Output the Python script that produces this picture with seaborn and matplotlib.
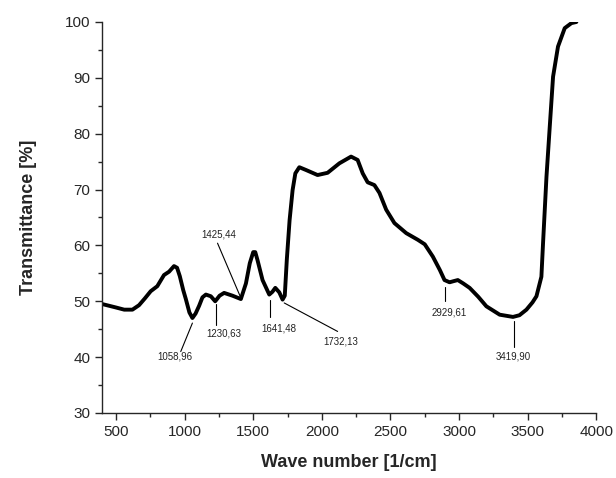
import matplotlib
matplotlib.use("Agg")
import matplotlib.pyplot as plt
import seaborn as sns
import pandas as pd
from matplotlib.ticker import MultipleLocator

wavenumber = [400, 498, 560, 620, 668, 710, 753, 801, 850, 887, 923, 945, 965, 990, 1009, 1035,
              1057, 1080, 1106, 1130, 1155, 1191, 1223, 1255, 1288, 1349, 1410, 1447, 1475,
              1500, 1515, 1531, 1568, 1617, 1640, 1661, 1690, 1714, 1730, 1745, 1765, 1787,
              1807, 1836, 1885, 1969, 2042, 2128, 2213, 2261, 2298, 2334, 2383, 2420, 2469,
              2529, 2615, 2700, 2750, 2809, 2860, 2894, 2931, 2960, 2991, 3030, 3077, 3140,
              3199, 3296, 3393, 3440, 3491, 3535, 3564, 3600, 3612, 3637, 3661, 3685, 3721,
              3770, 3819, 3855]
transmittance = [49.5, 48.9, 48.5, 48.5, 49.3, 50.5, 51.8, 52.7, 54.7, 55.3, 56.3, 56.0, 54.5,
                 52.0, 50.4, 48.0, 47.0, 47.8, 49.2, 50.7, 51.2, 50.9, 50.0, 51.0, 51.5, 51.0,
                 50.4, 53.2, 56.8, 58.8, 58.8, 57.4, 53.8, 51.2, 51.7, 52.4, 51.6, 50.3, 51.0,
                 57.5, 64.5, 69.9, 72.9, 74.0, 73.5, 72.6, 73.0, 74.7, 75.9, 75.3, 72.9, 71.3,
                 70.8, 69.4, 66.4, 64.0, 62.2, 61.0, 60.2, 58.0, 55.6, 53.8, 53.4, 53.6, 53.8,
                 53.2, 52.4, 50.8, 49.1, 47.6, 47.2, 47.5, 48.5, 49.8, 50.9, 54.4, 60.4, 72.3,
                 81.3, 90.2, 95.6, 98.9, 99.8, 100.0]

peak_labels = ["1058,96", "1230,63", "1425,44", "1641,48", "1732,13", "2929,61", "3419,90"]
# leader line start (x, y), end (x, y), text position (x, y)
line_start = [(1057, 46.1), (1228, 49.6), (1410, 50.6), (1619, 50.3), (1726, 49.7), (2899, 52.6), (3400, 46.4)]
line_end = [(972, 41.0), (1228, 45.7), (1240, 60.4), (1619, 47.2), (2115, 44.6), (2899, 50.1), (3400, 41.9)]
text_pos = [(931, 40.1), (1283, 44.3), (1252, 61.9), (1685, 45.2), (2139, 42.8), (2931, 48.0), (3393, 40.1)]

df = pd.DataFrame({"Wave number": wavenumber, "Transmittance": transmittance})

sns.set_style("ticks")
plt.rcParams["font.family"] = ["Liberation Sans", "DejaVu Sans"]

fig = plt.figure(figsize=(6.16, 4.78), dpi=100)
ax = fig.add_axes([0.166, 0.136, 0.802, 0.818])
sns.lineplot(data=df, x="Wave number", y="Transmittance", ax=ax, color="black",
             linewidth=2.8, sort=False, solid_capstyle="round", solid_joinstyle="round")

for lab, s, e, t in zip(peak_labels, line_start, line_end, text_pos):
    ax.plot([s[0], e[0]], [s[1], e[1]], color="black", linewidth=0.8)
    ax.text(t[0], t[1], lab, fontsize=7, ha="center", va="center", color="#222222")

ax.set_xlim(400, 4000)
ax.set_ylim(30, 100)
ax.xaxis.set_major_locator(MultipleLocator(500))
ax.xaxis.set_minor_locator(MultipleLocator(250))
ax.yaxis.set_major_locator(MultipleLocator(10))
ax.yaxis.set_minor_locator(MultipleLocator(5))
ax.tick_params(axis="both", which="major", labelsize=11, length=5, width=1, direction="out")
ax.tick_params(axis="both", which="minor", length=3, width=1, direction="out")
sns.despine(ax=ax)
for sp in ["left", "bottom"]:
    ax.spines[sp].set_linewidth(1)
ax.set_xlabel("Wave number [1/cm]", fontsize=13, fontweight="bold", labelpad=11)
ax.set_ylabel("Transmittance [%]", fontsize=13, fontweight="bold", labelpad=20)

fig.savefig("out.png", dpi=100)
